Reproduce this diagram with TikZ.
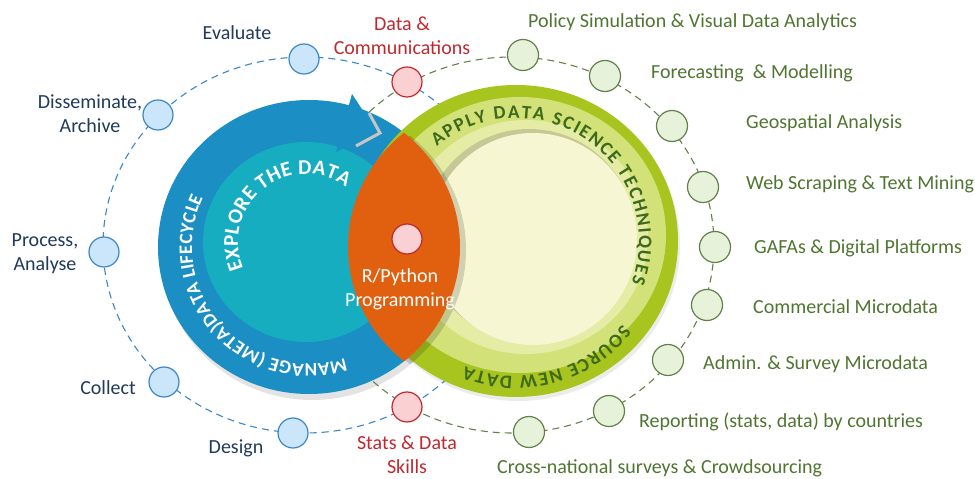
\documentclass[tikz,border=0pt]{standalone}
\usepackage{fontspec}
\setmainfont{Carlito}
\usepackage{xcolor}
\usetikzlibrary{decorations.text,shadows}

\definecolor{ringblue}{HTML}{1B8EC4}
\definecolor{tealin}{HTML}{16ADC0}
\definecolor{lensorange}{HTML}{E1600F}
\definecolor{limedark}{HTML}{A7C41F}
\definecolor{limeband}{HTML}{D2E178}
\definecolor{limelight}{HTML}{E4ECA6}
\definecolor{limeshade}{HTML}{C6C996}
\definecolor{limepale}{HTML}{F6F6D2}
\definecolor{limetext}{HTML}{3E6A1C}
\definecolor{dotblue}{HTML}{CBE6FB}
\definecolor{lineblue}{HTML}{3A86C8}
\definecolor{dotpink}{HTML}{FBD0D3}
\definecolor{linered}{HTML}{C0282D}
\definecolor{dotgreen}{HTML}{E6F2DA}
\definecolor{linegreen}{HTML}{64804A}
\definecolor{txtblue}{HTML}{1F3A5A}
\definecolor{txtgreen}{HTML}{4F7530}

\newcommand\ringfont{\bfseries\fontsize{19}{19}\selectfont}
\newcommand\explfont{\bfseries\fontsize{21}{21}\selectfont}
\newcommand\limefont{\bfseries\fontsize{19}{19}\selectfont}

\begin{document}
\begin{tikzpicture}[x=1pt,y=1pt,
  bdot/.style={circle,draw=lineblue,fill=dotblue,line width=1.2pt,minimum size=30pt,inner sep=0pt},
  pdot/.style={circle,draw=linered,fill=dotpink,line width=1.2pt,minimum size=30pt,inner sep=0pt},
  gdot/.style={circle,draw=linegreen,fill=dotgreen,line width=1.2pt,minimum size=31pt,inner sep=0pt},
  lbl/.style={font=\fontsize{20}{24}\selectfont,align=center,inner sep=0pt},
  blbl/.style={lbl,text=txtblue},
  rlbl/.style={lbl,text=linered},
  glbl/.style={lbl,text=txtgreen,anchor=west},
  bdash/.style={draw=lineblue,line width=1.1pt,dash pattern=on 7pt off 5pt},
  gdash/.style={draw=linegreen,line width=1.1pt,dash pattern=on 7pt off 5pt},
  ringtext/.style={decorate,decoration={text along path,text align={fit to path},#1}}]

  \useasboundingbox (0,0) rectangle (975,479);

  % dashed orbits
  \draw[bdash] (305,234) ellipse [x radius=202, y radius=188];
  \draw[gdash] (512,234) ellipse [x radius=202, y radius=188];

  % lifecycle ring
  \fill[ringblue,drop shadow={shadow xshift=3pt,shadow yshift=-6pt,opacity=0.22}] (309,232) ellipse [x radius=151, y radius=147];
  \fill[tealin] (306,237) ellipse [x radius=103, y radius=100];
  \draw[gray!45,line width=3pt] (369,366) -- (380,346) -- (356,333);
  \fill[ringblue] (352,385) -- (377,347) -- (336,327) -- cycle;

  % data science ring
  \fill[limedark,drop shadow={shadow xshift=2pt,shadow yshift=-4pt,opacity=0.15}] (516,238) ellipse [x radius=162, y radius=156];
  \fill[limeband] (520,244) ellipse [x radius=146, y radius=138];
  \fill[limelight] (526,242) ellipse [x radius=122, y radius=117];
  \fill[limeshade] (529,244) ellipse [x radius=106, y radius=106];
  \fill[limepale] (533,240) ellipse [x radius=104, y radius=106];

  % overlap
  \begin{scope}
    \clip (315,229) ellipse [x radius=151, y radius=147];
    \fill[black,opacity=0.15] (505,229) ellipse [x radius=151, y radius=147];
  \end{scope}
  \begin{scope}
    \clip (309,232) ellipse [x radius=151, y radius=147];
    \fill[lensorange] (499,232) ellipse [x radius=151, y radius=147];
  \end{scope}

  % curved titles
  \path[ringtext={text={|\ringfont|MANAGE (META)DATA LIFECYCLE},text color=white}]
    ([shift={(309,232)}]-72:117) arc[start angle=-72,end angle=-205,radius=117];
  \path[ringtext={text={|\explfont|EXPLORE THE DATA},text color=white}]
    ([shift={(306,237)}]203:68) arc[start angle=203,end angle=54,radius=68];
  \path[ringtext={text={|\limefont|APPLY DATA SCIENCE TECHNIQUES},text color=limetext}]
    ([shift={(516,238)}]130:123) arc[start angle=130,end angle=-20,radius=123];
  \path[ringtext={text={|\limefont|SOURCE NEW DATA},text color=limetext}]
    ([shift={(516,238)}]-38:135) arc[start angle=-38,end angle=-112,radius=135];

  % lifecycle steps
  \node[bdot] (evaluate) at (304,420) {};
  \node[bdot] (dissem)   at (158,364) {};
  \node[bdot] (process)  at (104,227) {};
  \node[bdot] (collect)  at (164,97)  {};
  \node[bdot] (design)   at (293,46)  {};

  \node[pdot] (datacomm) at (407,397) {};
  \node[pdot] (rpython)  at (407,240) {};
  \node[pdot] (stats)    at (407,72)  {};

  % techniques and sources
  \node[gdot] (policy)   at (523,424) {};
  \node[gdot] (forecast) at (605,403) {};
  \node[gdot] (geo)      at (672,353) {};
  \node[gdot] (web)      at (703,292) {};
  \node[gdot] (gafa)     at (715,232) {};
  \node[gdot] (commerc)  at (707,174) {};
  \node[gdot] (admin)    at (668,119) {};
  \node[gdot] (report)   at (609,68)  {};
  \node[gdot] (cross)    at (529,47)  {};

  \node[blbl] (tEvaluate) at (237,446) {Evaluate};
  \node[blbl] (tDissem)   at (90,365)  {Disseminate,\\Archive};
  \node[blbl] (tProcess)  at (45,225)  {Process,\\Analyse};
  \node[blbl] (tCollect)  at (108,91)  {Collect};
  \node[blbl] (tDesign)   at (236,31)  {Design};

  \node[rlbl] (tDataComm) at (402,443) {Data \&\\Communications};
  \node[rlbl] (tStats)    at (407,24)  {Stats \& Data\\Skills};
  \node[lbl,text=white] (tRpython) at (400,190) {R/Python\\Programming};

  \node[glbl] (tPolicy)   at (528,457) {Policy Simulation \& Visual Data Analytics};
  \node[glbl] (tForecast) at (651,406) {Forecasting~ \& Modelling};
  \node[glbl] (tGeo)      at (746,356) {Geospatial Analysis};
  \node[glbl] (tWeb)      at (746,295) {Web Scraping \& Text Mining};
  \node[glbl] (tGafa)     at (754,231) {GAFAs \& Digital Platforms};
  \node[glbl] (tCommerc)  at (753,172) {Commercial Microdata};
  \node[glbl] (tAdmin)    at (703,115) {Admin. \& Survey Microdata};
  \node[glbl] (tReport)   at (639,57)  {Reporting (stats, data) by countries};
  \node[glbl] (tCross)    at (497,11)  {Cross-national surveys \& Crowdsourcing};
\end{tikzpicture}
\end{document}
